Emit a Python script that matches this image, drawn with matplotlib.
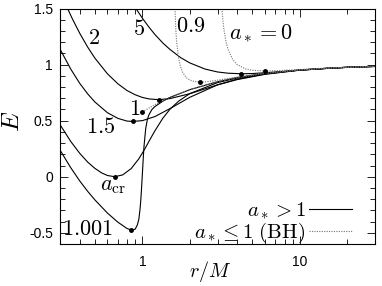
import numpy as np
import matplotlib
matplotlib.use("Agg")
import matplotlib.pyplot as plt
from matplotlib.ticker import FixedLocator, NullFormatter, FuncFormatter

plt.rcParams['mathtext.fontset'] = 'cm'
plt.rcParams['axes.unicode_minus'] = False
plt.rcParams['font.family'] = ['Liberation Sans', 'DejaVu Sans']

# --- datos (r/M, E) ---
# a* = 5  (solida)
r_a5 = [0.91, 0.95, 1.0, 1.1, 1.2, 1.35, 1.5, 1.75, 2.0, 2.5, 3.0, 3.5, 4.25, 5.0, 6.0, 8.0, 10.0, 15.0, 20.0, 30.0]
E_a5 = [1.50, 1.461, 1.414, 1.335, 1.269, 1.192, 1.134, 1.062, 1.015, 0.960, 0.934, 0.923, 0.918, 0.920, 0.927, 0.940, 0.950, 0.966, 0.975, 0.983]

# a* = 2
r_a2 = [0.335, 0.36, 0.4, 0.45, 0.5, 0.6, 0.7, 0.8, 0.9, 1.0, 1.1, 1.27, 1.5, 2.0, 3.0, 4.0, 6.0, 10.0, 15.0, 20.0, 30.0]
E_a2 = [1.50, 1.406, 1.280, 1.155, 1.057, 0.918, 0.828, 0.768, 0.731, 0.707, 0.694, 0.687, 0.697, 0.740, 0.819, 0.866, 0.913, 0.950, 0.966, 0.975, 0.983]

# a* = 1.5
r_a15 = [0.3, 0.35, 0.4, 0.45, 0.5, 0.6, 0.7, 0.8, 0.87, 1.0, 1.2, 1.5, 2.0, 3.0, 4.0, 6.0, 10.0, 15.0, 20.0, 30.0]
E_a15 = [1.138, 0.963, 0.833, 0.738, 0.666, 0.571, 0.520, 0.496, 0.493, 0.500, 0.536, 0.608, 0.708, 0.819, 0.870, 0.916, 0.951, 0.967, 0.976, 0.984]

# a* = a_cr
r_acr = [0.3, 0.35, 0.4, 0.45, 0.5, 0.55, 0.6, 0.667, 0.75, 0.85, 0.95, 1.0, 1.05, 1.1, 1.2, 1.35, 1.5, 1.7, 2.0, 3.0, 4.0, 6.0, 10.0, 15.0, 20.0, 30.0]
E_acr = [0.465, 0.317, 0.209, 0.130, 0.074, 0.035, 0.011, 0.0, 0.016, 0.073, 0.160, 0.211, 0.262, 0.314, 0.408, 0.522, 0.603, 0.674, 0.741, 0.839, 0.880, 0.920, 0.952, 0.967, 0.976, 0.984]

# a* = 1.001
r_a1001 = [0.3, 0.35, 0.4, 0.45, 0.5, 0.6, 0.7, 0.8, 0.85, 0.9, 0.93, 0.95, 0.965, 0.975, 0.985, 1.0, 1.015, 1.025,
           1.05, 1.075, 1.1, 1.15, 1.2, 1.35, 1.5, 2.0, 3.0, 4.0, 6.0, 10.0, 15.0, 20.0, 30.0]
E_a1001 = [0.238, 0.083, -0.037, -0.131, -0.207, -0.324, -0.406, -0.462, -0.475, -0.468, -0.429, -0.379, -0.298, -0.229, -0.138, 0.022, 0.184, 0.274,
           0.428, 0.508, 0.551, 0.599, 0.625, 0.674, 0.707, 0.776, 0.847, 0.884, 0.921, 0.952, 0.967, 0.976, 0.984]

# a* = 1 (BH, punteada)
r_a1 = [1.0, 1.02, 1.05, 1.1, 1.2, 1.35, 1.5, 2.0, 3.0, 4.0, 6.0, 10.0, 15.0, 20.0, 30.0]
E_a1 = [0.577, 0.585, 0.595, 0.612, 0.642, 0.679, 0.709, 0.777, 0.848, 0.884, 0.921, 0.952, 0.968, 0.976, 0.984]

# a* = 0.9 (BH)
r_a09 = [1.6, 1.63, 1.65, 1.7, 1.75, 1.8, 1.9, 2.0, 2.15, 2.32, 2.5, 2.7, 3.0, 4.0, 6.0, 10.0, 15.0, 20.0, 30.0]
E_a09 = [1.621, 1.314, 1.205, 1.054, 0.978, 0.932, 0.884, 0.862, 0.848, 0.845, 0.846, 0.851, 0.861, 0.889, 0.923, 0.952, 0.968, 0.976, 0.984]

# a* = 0 (Schwarzschild)
r_a0 = [3.2, 3.25, 3.3, 3.4, 3.5, 3.75, 4.0, 4.5, 5.0, 6.0, 7.0, 8.0, 10.0, 15.0, 20.0, 30.0]
E_a0 = [1.50, 1.387, 1.307, 1.201, 1.134, 1.044, 1.000, 0.962, 0.949, 0.943, 0.945, 0.949, 0.956, 0.969, 0.976, 0.984]

# ISCO (puntos)
r_isco = [4.25, 1.27, 0.87, 0.667, 0.85, 1.0, 2.32, 6.0]
E_isco = [0.918, 0.687, 0.493, 0.0, -0.475, 0.577, 0.845, 0.943]

# --- figura ---
fig = plt.figure(figsize=(3.82, 2.86), dpi=100)
ax = fig.add_axes([60/382, 1-244/286, 315/382, 235.5/286])

solid = dict(color='black', lw=0.8)
dotted = dict(color='0.45', lw=0.8, ls=(0, (1, 1.2)))

ax.plot(r_a5, E_a5, **solid)
ax.plot(r_a2, E_a2, **solid)
ax.plot(r_a15, E_a15, **solid)
ax.plot(r_acr, E_acr, **solid)
ax.plot(r_a1001, E_a1001, **solid)
ax.plot(r_a1, E_a1, **dotted)
ax.plot(r_a09, E_a09, **dotted)
ax.plot(r_a0, E_a0, **dotted)
ax.plot(r_isco, E_isco, 'o', color='black', ms=2.5, zorder=5)

# leyenda
ax.plot([], [], label=r'$a_* > 1$', **solid)
ax.plot([], [], label=r'$a_* \leq 1\ (\mathrm{BH})$', **dotted)
ax.legend(loc='lower right', frameon=False, markerfirst=False, fontsize=15,
          handlelength=2.1, handletextpad=0.15, labelspacing=0.0,
          borderaxespad=0.2, borderpad=0.2, bbox_to_anchor=(0.955, -0.04))

# etiquetas de curvas
tkw = dict(fontsize=16, ha='center', va='center')
ax.text(0.493, 1.232, r'$2$', **tkw)
ax.text(0.953, 1.31, r'$5$', **tkw)
ax.text(2.04, 1.34, r'$0.9$', **tkw)
ax.text(3.57, 1.28, r'$a_* = 0$', fontsize=16, ha='left', va='center')
ax.text(0.892, 0.595, r'$1$', **tkw)
ax.text(0.544, 0.442, r'$1.5$', **tkw)
ax.text(0.651, -0.08, r'$a_{\rm cr}$', **tkw)
ax.text(0.45, -0.473, r'$1.001$', **tkw)

ax.set_xscale('log')
ax.set_xlim(0.3, 30)
ax.set_ylim(-0.6, 1.5)

ax.xaxis.set_major_locator(FixedLocator([1, 10]))
ax.xaxis.set_minor_locator(FixedLocator([0.3, 0.4, 0.5, 0.6, 0.7, 0.8, 0.9, 2, 3, 4, 5, 6, 7, 8, 9, 20, 30]))
ax.xaxis.set_major_formatter(FuncFormatter(lambda v, p: '%g' % v))
ax.xaxis.set_minor_formatter(NullFormatter())
ax.yaxis.set_major_locator(FixedLocator([-0.5, 0, 0.5, 1, 1.5]))
ax.yaxis.set_minor_locator(FixedLocator(np.arange(-0.6, 1.51, 0.1)))
ax.yaxis.set_major_formatter(FuncFormatter(lambda v, p: '%g' % v))

ax.tick_params(which='both', direction='in', top=True, right=True, width=0.6, labelsize=10)
ax.tick_params(which='major', length=6)
ax.tick_params(which='minor', length=3.5)
ax.tick_params(axis='x', pad=8)
ax.tick_params(axis='y', pad=5)
for s in ax.spines.values():
    s.set_linewidth(0.8)

ax.set_xlabel(r'$r/M$', fontsize=14.5)
ax.set_ylabel(r'$E$', fontsize=18)
ax.xaxis.set_label_coords(0.476, -0.064)
ax.yaxis.set_label_coords(-0.115, 0.52)

fig.savefig('out.png', dpi=100)
